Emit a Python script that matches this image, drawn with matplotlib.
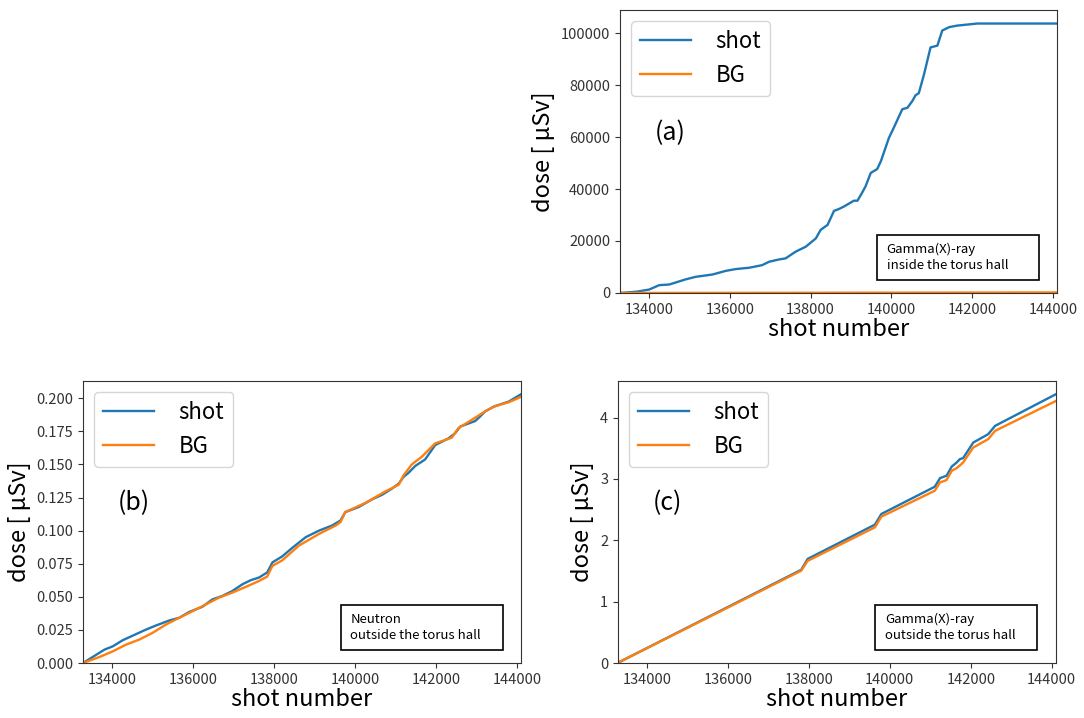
import matplotlib
matplotlib.use("Agg")
import matplotlib.pyplot as plt
from matplotlib.ticker import MultipleLocator
from matplotlib.patches import Rectangle

plt.rcParams['font.family'] = ['Noto Sans CJK JP', 'DejaVu Sans']

# (a) gamma(X)-ray inside the torus hall
a_shot_x = [133300, 133700, 134000, 134250, 134500, 134900, 135150, 135570, 135900, 136150,
            136480, 136800, 136970, 137220, 137380, 137630, 137880, 138130, 138250, 138420,
            138580, 138700, 138830, 139070, 139160, 139280, 139360, 139490, 139650, 139740,
            139940, 140060, 140270, 140400, 140520, 140600, 140680, 140810, 140970, 141140,
            141260, 141430, 141630, 141880, 142130, 144100]
a_shot_y = [0, 500, 1300, 3000, 3250, 5200, 6200, 7100, 8500, 9200,
            9700, 10700, 12000, 12900, 13300, 15900, 17800, 21000, 24300, 26200,
            31600, 32300, 33300, 35500, 35500, 38700, 41000, 46200, 47700, 50700,
            59700, 63600, 70700, 71300, 73900, 76100, 76900, 84200, 94500, 95200,
            101000, 102300, 102900, 103300, 103700, 103700]
a_bg_x = [133300, 137000, 141000, 144100]
a_bg_y = [0, 60, 130, 200]

# (b) neutron outside the torus hall
b_shot_x = [133280, 133610, 133810, 134015, 134260, 134510, 134840, 135080, 135410, 135660,
            135900, 136230, 136480, 136720, 136970, 137220, 137420, 137630, 137830, 137960,
            138200, 138450, 138780, 139110, 139430, 139640, 139760, 140090, 140420, 140670,
            140910, 141080, 141200, 141320, 141490, 141730, 141980, 142310, 142470, 142600,
            142970, 143090, 143210, 143440, 143800, 144100]
b_shot_y = [0, 0.0063, 0.0101, 0.0126, 0.0172, 0.0207, 0.0253, 0.0283, 0.0321, 0.0342,
            0.0385, 0.0425, 0.0481, 0.0506, 0.0544, 0.0595, 0.0625, 0.0646, 0.0684, 0.0760,
            0.0805, 0.0870, 0.0950, 0.1000, 0.1038, 0.1076, 0.1140, 0.1178, 0.1236, 0.1271,
            0.1317, 0.1355, 0.1406, 0.1436, 0.1489, 0.1537, 0.1646, 0.1697, 0.1735, 0.1786,
            0.1828, 0.1862, 0.1900, 0.1938, 0.1975, 0.2030]
b_bg_x = [133280, 133690, 134015, 134345, 134670, 135000, 135330, 135660, 135990, 136320,
          136640, 136970, 137300, 137630, 137830, 137960, 138200, 138610, 139110, 139520,
          139640, 139760, 140260, 140750, 141080, 141200, 141400, 141650, 141980, 142390,
          142550, 142880, 143210, 143440, 143800, 144100]
b_bg_y = [0, 0.0046, 0.0088, 0.0139, 0.0177, 0.0228, 0.0291, 0.0342, 0.0392, 0.0443,
          0.0494, 0.0532, 0.0575, 0.0620, 0.0653, 0.0734, 0.0775, 0.0886, 0.0975, 0.1038,
          0.1064, 0.1140, 0.1210, 0.1296, 0.1347, 0.1418, 0.1499, 0.1558, 0.1659, 0.1702,
          0.1773, 0.1836, 0.1900, 0.1938, 0.1970, 0.2010]

# (c) gamma(X)-ray outside the torus hall
c_x = [133270, 137810, 137970, 139630, 139790, 141110, 141240, 141400, 141530, 141650,
       141730, 141810, 142060, 142430, 142600, 144100]
c_shot_y = [0, 1.519, 1.697, 2.255, 2.429, 2.873, 3.014, 3.052, 3.203, 3.268,
            3.323, 3.339, 3.593, 3.730, 3.865, 4.38]
c_bg_y = [0, 1.505, 1.665, 2.211, 2.385, 2.808, 2.943, 2.982, 3.133, 3.177,
          3.220, 3.268, 3.512, 3.649, 3.784, 4.27]

fig = plt.figure(figsize=(10.84, 7.18), dpi=100)
ax_a = fig.add_axes([0.572, 0.592, 0.403, 0.394])
ax_b = fig.add_axes([0.0766, 0.0766, 0.404, 0.393])
ax_c = fig.add_axes([0.570, 0.0766, 0.404, 0.393])

panels = [
    (ax_a, a_shot_x, a_shot_y, a_bg_x, a_bg_y, "(a)", "Gamma(X)-ray\ninside the torus hall"),
    (ax_b, b_shot_x, b_shot_y, b_bg_x, b_bg_y, "(b)", "Neutron\noutside the torus hall"),
    (ax_c, c_x, c_shot_y, c_x, c_bg_y, "(c)", "Gamma(X)-ray\noutside the torus hall"),
]

for ax, sx, sy, bx, by, tag, note in panels:
    ax.plot(sx, sy, color="#1f77b4", lw=1.7, label="shot")
    ax.plot(bx, by, color="#ff7f0e", lw=1.7, label="BG")
    ax.set_xlim(133280, 144100)
    ax.set_ylim(bottom=0)
    ax.xaxis.set_major_locator(MultipleLocator(2000))
    ax.ticklabel_format(useOffset=False, style='plain')
    ax.tick_params(labelsize=10.5, colors="#333333")
    for s in ax.spines.values():
        s.set_color("#333333")
    ax.set_xlabel("shot number", fontsize=17, labelpad=1)
    ax.set_ylabel("dose [ μSv]", fontsize=17, labelpad=4)
    ax.legend(loc="upper left", fontsize=16, handlelength=2.3, handletextpad=1.1)
    ax.text(0.08, 0.565, tag, transform=ax.transAxes, fontsize=18, va="center")
    ax.add_patch(Rectangle((0.588, 0.046), 0.37, 0.16, transform=ax.transAxes,
                           fill=False, edgecolor="black", lw=1.2))
    ax.text(0.61, 0.126, note, transform=ax.transAxes, fontsize=9.5,
            va="center", ha="left", linespacing=1.35)

ax_b.yaxis.set_major_locator(MultipleLocator(0.025))
ax_c.yaxis.set_major_locator(MultipleLocator(1))

fig.savefig("out.png", dpi=100)
